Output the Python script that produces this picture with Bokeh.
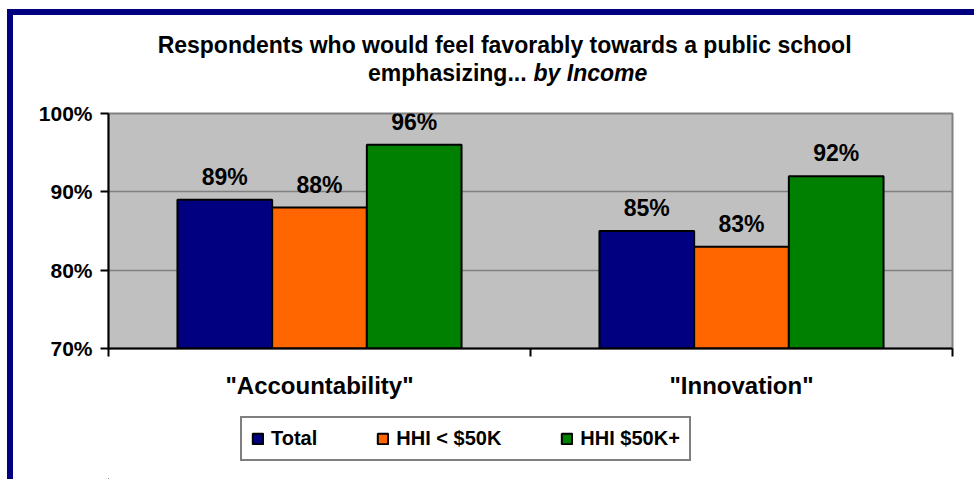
from bokeh.plotting import figure
from bokeh.layouts import column
from bokeh.models import (ColumnDataSource, FactorRange, Range1d, LinearAxis, FixedTicker,
                          PrintfTickFormatter, LabelSet, Legend, LegendItem)
from bokeh.transform import dodge
from bokeh.core.properties import value
from bokeh.embed import file_html
from bokeh.resources import INLINE

# ---- data ----
categories = ['"Accountability"', '"Innovation"']
series_names = ["Total", "HHI < $50K", "HHI $50K+"]
total = [89, 85]
hhi_under_50k = [88, 83]
hhi_50k_plus = [96, 92]
y_ticks = [70, 80, 90, 100]
title_line1 = "Respondents who would feel favorably towards a public school"
title_line2a = "emphasizing..."
title_line2b = "by Income"

# ---- style ----
colors = ["#000080", "#FF6600", "#008000"]
FONT = "Liberation Sans"
BAR_W = 0.2244
offsets = [-BAR_W, 0.0, BAR_W]
W, H_TITLE, H_MAIN, H_LEG = 961, 85, 315, 64


def blank_strip(h, xr, yr):
    f = figure(width=W, height=h, x_range=xr, y_range=yr,
               output_backend="svg", toolbar_location=None, title=None,
               x_axis_location=None, y_axis_location=None,
               min_border=0, min_border_left=0, min_border_right=0,
               min_border_top=0, min_border_bottom=0,
               outline_line_color=None, background_fill_color="white", border_fill_color="white")
    f.xgrid.visible = False
    f.ygrid.visible = False
    return f


# ---------------- title strip ----------------
pt = blank_strip(H_TITLE, Range1d(0, W), Range1d(H_TITLE, 0))
pt.text(x=[451], y=[29], text=[title_line1], text_align="center", text_baseline="alphabetic",
        text_font=value(FONT), text_font_style="bold", text_font_size="23px", text_color="black")
pt.text(x=[476], y=[57], text=[title_line2a], text_align="right", text_baseline="alphabetic",
        text_font=value(FONT), text_font_style="bold", text_font_size="23px", text_color="black")
pt.text(x=[484], y=[57], text=[title_line2b], text_align="left", text_baseline="alphabetic",
        text_font=value(FONT), text_font_style="bold italic", text_font_size="23px", text_color="black")

# ---------------- main chart ----------------
src = ColumnDataSource(dict(
    cat=categories,
    s0=total, s1=hhi_under_50k, s2=hhi_50k_plus,
    l0=[f"{v}%" for v in total],
    l1=[f"{v}%" for v in hhi_under_50k],
    l2=[f"{v}%" for v in hhi_50k_plus],
))

p = figure(width=W, height=H_MAIN, title=None,
           x_range=FactorRange(*categories, range_padding=0),
           y_range=Range1d(y_ticks[0], y_ticks[-1]),
           output_backend="svg", toolbar_location=None, x_axis_location=None,
           min_border_left=95, min_border_right=22, min_border_top=13, min_border_bottom=67,
           background_fill_color="#C0C0C0", border_fill_color="white",
           outline_line_color="#808080", outline_line_width=2)
p.xgrid.visible = False

# y axis
p.yaxis.ticker = FixedTicker(ticks=y_ticks)
p.yaxis.formatter = PrintfTickFormatter(format="%d%%")
p.yaxis.major_tick_out = 8
p.yaxis.major_tick_in = 0
p.yaxis.minor_tick_line_color = None
p.yaxis.axis_line_width = 2
p.yaxis.major_tick_line_width = 2
p.yaxis.axis_line_color = "black"
p.yaxis.major_label_standoff = 8
p.yaxis.major_label_text_font = FONT
p.yaxis.major_label_text_font_style = "bold"
p.yaxis.major_label_text_font_size = "21px"
p.yaxis.major_label_text_color = "black"
p.ygrid.grid_line_color = "#808080"
p.ygrid.grid_line_width = 1.5

# x axis: ticks at category boundaries, labels at category centres
n = len(categories)
xaxis = LinearAxis(ticker=FixedTicker(ticks=[i + 0.5 for i in range(n)],
                                      minor_ticks=[i for i in range(n + 1)]),
                   major_label_overrides={i + 0.5: c for i, c in enumerate(categories)})
xaxis.major_tick_out = 0
xaxis.major_tick_in = 0
xaxis.major_tick_line_color = None
xaxis.minor_tick_out = 8
xaxis.minor_tick_in = 0
xaxis.minor_tick_line_width = 2
xaxis.minor_tick_line_color = "black"
xaxis.axis_line_width = 2
xaxis.axis_line_color = "black"
xaxis.major_label_standoff = 15
xaxis.major_label_text_font = FONT
xaxis.major_label_text_font_style = "bold"
xaxis.major_label_text_font_size = "24px"
xaxis.major_label_text_color = "black"
p.add_layout(xaxis, "below")

# bars + value labels
for i, col in enumerate(colors):
    p.vbar(x=dodge("cat", offsets[i], range=p.x_range), top=f"s{i}", bottom=y_ticks[0],
           width=BAR_W, source=src, fill_color=col, line_color="black", line_width=2)
    p.add_layout(LabelSet(x=dodge("cat", offsets[i], range=p.x_range), y=f"s{i}", text=f"l{i}",
                          source=src, y_offset=15, text_align="center", text_baseline="alphabetic",
                          text_font=value(FONT), text_font_style="bold",
                          text_font_size="23px", text_color="black"))

# ---------------- legend strip ----------------
# proxy bars (zero-size, outside the strip's range) that carry each series' style for the legend
pl = blank_strip(H_LEG, Range1d(1, 2), Range1d(1, 2))
proxy = ColumnDataSource(dict(x=[0], top=[0]))
leg_renderers = [pl.vbar(x="x", top="top", bottom=0, width=0, source=proxy, fill_color=col,
                         line_color="black", line_width=2) for col in colors]
legend = Legend(items=[LegendItem(label=nm, renderers=[r]) for nm, r in zip(series_names, leg_renderers)],
                location=(132, 18), orientation="horizontal",
                background_fill_color="white", background_fill_alpha=1,
                border_line_color="black", border_line_width=2,
                padding=9, margin=0, spacing=59, label_standoff=7,
                glyph_width=13, glyph_height=13, label_height=20,
                label_text_font=FONT, label_text_font_style="bold", label_text_font_size="20px",
                label_text_color="black")
pl.add_layout(legend)

layout = column(pt, p, pl, spacing=0, margin=(15, 0, 0, 13),
                styles={"outline": "6px solid #000080"})

open("out.html", "w").write(file_html(layout, INLINE))
